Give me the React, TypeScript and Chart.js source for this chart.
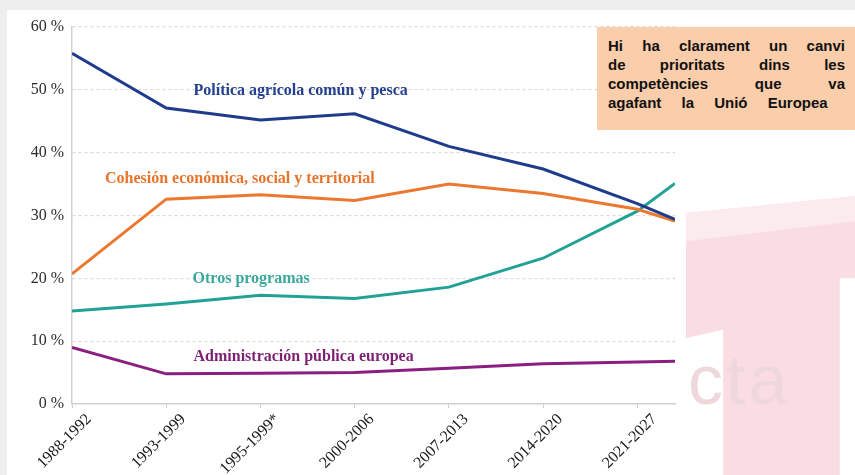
import React, { useEffect, useRef } from "react";
import { Chart, registerables } from "chart.js";

Chart.register(...registerables);

const categories = ["1988-1992", "1993-1999", "1995-1999*", "2000-2006", "2007-2013", "2014-2020", "2021-2027"];
const periodIndex = [0, 1, 2, 3, 4, 5, 6, 6.4];
const agricola = [55.8, 47.1, 45.2, 46.2, 41.0, 37.4, 31.9, 29.4];
const cohesion = [20.7, 32.6, 33.3, 32.4, 35.0, 33.5, 31.0, 29.1];
const otros = [14.8, 15.9, 17.3, 16.8, 18.6, 23.2, 30.7, 35.1];
const administracion = [9.0, 4.8, 4.9, 5.0, 5.7, 6.4, 6.7, 6.8];

const seriesNames = [
  "Política agrícola común y pesca",
  "Cohesión económica, social y territorial",
  "Otros programas",
  "Administración pública europea",
];
const lineColors = ["#1f3c8c", "#ec7830", "#22a295", "#8a1f7f"];
const labelColors = ["#24408e", "#e8742c", "#3aa89b", "#7d1f73"];
const labelAnchorX = [1.29, 0.35, 1.28, 1.29];
const labelAnchorY = [49.8, 35.9, 19.9, 7.5];
const yTicks = [0, 10, 20, 30, 40, 50, 60];

const seriesLabelsPlugin = {
  id: "seriesLabels",
  afterDatasetsDraw(chart: any) {
    const { ctx, scales } = chart;
    ctx.save();
    ctx.font = "bold 16px 'Liberation Serif', serif";
    ctx.textBaseline = "middle";
    ctx.textAlign = "left";
    seriesNames.forEach((name, i) => {
      ctx.fillStyle = labelColors[i];
      ctx.fillText(name, scales.x.getPixelForValue(labelAnchorX[i]), scales.y.getPixelForValue(labelAnchorY[i]));
    });
    ctx.restore();
  },
};

export default function App() {
  const canvasRef = useRef<HTMLCanvasElement>(null);

  useEffect(() => {
    if (!canvasRef.current) return;
    const toPoints = (vals: number[]) => vals.map((v, i) => ({ x: periodIndex[i], y: v }));
    const all = [agricola, cohesion, otros, administracion];
    const chart = new Chart(canvasRef.current, {
      type: "line",
      data: {
        datasets: all.map((vals, i) => ({
          label: seriesNames[i],
          data: toPoints(vals),
          borderColor: lineColors[i],
          backgroundColor: lineColors[i],
          borderWidth: 3,
          pointRadius: 0,
          tension: 0,
          fill: false,
        })),
      },
      options: {
        animation: false,
        responsive: false,
        layout: { padding: { top: 27, right: 180, bottom: 0, left: 0 } },
        plugins: { legend: { display: false }, tooltip: { enabled: false } },
        scales: {
          x: {
            type: "linear",
            min: 0,
            max: 6.4,
            afterFit: (s: any) => {
              s.height = 71;
            },
            border: { color: "#d0d0d0", width: 1.5 },
            grid: { drawOnChartArea: false, color: "#d0d0d0", tickLength: 4 },
            ticks: {
              stepSize: 1,
              includeBounds: false,
              autoSkip: false,
              minRotation: 45,
              maxRotation: 45,
              labelOffset: 17,
              padding: 2,
              color: "#1a1a1a",
              font: { family: "'Liberation Serif', serif", size: 16 },
              callback: (v: any) => categories[v as number] ?? "",
            },
          },
          y: {
            min: 0,
            max: 60,
            afterFit: (s: any) => {
              s.width = 72;
            },
            afterBuildTicks: (s: any) => {
              s.ticks = yTicks.map((v) => ({ value: v }));
            },
            border: { color: "#d0d0d0", width: 1.5, dash: [3, 3] },
            grid: {
              color: (c: any) => (c.tick && c.tick.value === 0 ? "rgba(0,0,0,0)" : "#d9d9d9"),
              lineWidth: 1.2,
              drawTicks: false,
            },
            ticks: {
              padding: 8,
              color: "#2a2a2a",
              font: { family: "'Liberation Serif', serif", size: 16 },
              callback: (v: any) => `${v} %`,
            },
          },
        },
      },
      plugins: [seriesLabelsPlugin],
    } as any);
    return () => chart.destroy();
  }, []);

  return (
    <div style={{ position: "fixed", left: 0, top: 0, width: 855, height: 475, overflow: "hidden", background: "#eeeeee" }}>
      <div style={{ position: "absolute", left: 7, top: 10, width: 848, height: 465, background: "#ffffff" }} />
      <div
        style={{
          position: "absolute",
          left: 686,
          top: 190,
          width: 169,
          height: 285,
          background: "#fcebee",
          clipPath: "polygon(0% 8%, 100% 2%, 100% 14%, 0% 20%)",
        }}
      />
      <div
        style={{
          position: "absolute",
          left: 686,
          top: 190,
          width: 169,
          height: 285,
          background: "#f9dde2",
          clipPath: "polygon(0% 18%, 100% 11%, 100% 31%, 91% 31%, 91% 100%, 22% 100%, 22% 49%, 0% 52%)",
        }}
      />
      <div
        style={{
          position: "absolute",
          left: 688,
          top: 340,
          fontFamily: "'Liberation Sans', sans-serif",
          fontSize: 70,
          color: "#efd8dc",
          letterSpacing: 3,
          lineHeight: "80px",
        }}
      >
        cta
      </div>
      <canvas ref={canvasRef} width={855} height={475} style={{ position: "absolute", left: 0, top: 0, width: 855, height: 475 }} />
      <div
        style={{
          position: "absolute",
          left: 597,
          top: 27,
          width: 264,
          height: 103,
          boxSizing: "border-box",
          padding: "9px 16px 0 11px",
          background: "#facdab",
          fontFamily: "'Liberation Sans', Arial, sans-serif",
          fontWeight: "bold",
          fontSize: 15,
          lineHeight: "19px",
          color: "#111111",
        }}
      >
        {["Hi ha clarament un canvi", "de prioritats dins les", "competències que va"].map((line) => (
          <div key={line} style={{ display: "flex", justifyContent: "space-between" }}>
            {line.split(" ").map((w, j) => (
              <span key={j}>{w}</span>
            ))}
          </div>
        ))}
        <div style={{ wordSpacing: 16 }}>agafant la Unió Europea</div>
      </div>
    </div>
  );
}
